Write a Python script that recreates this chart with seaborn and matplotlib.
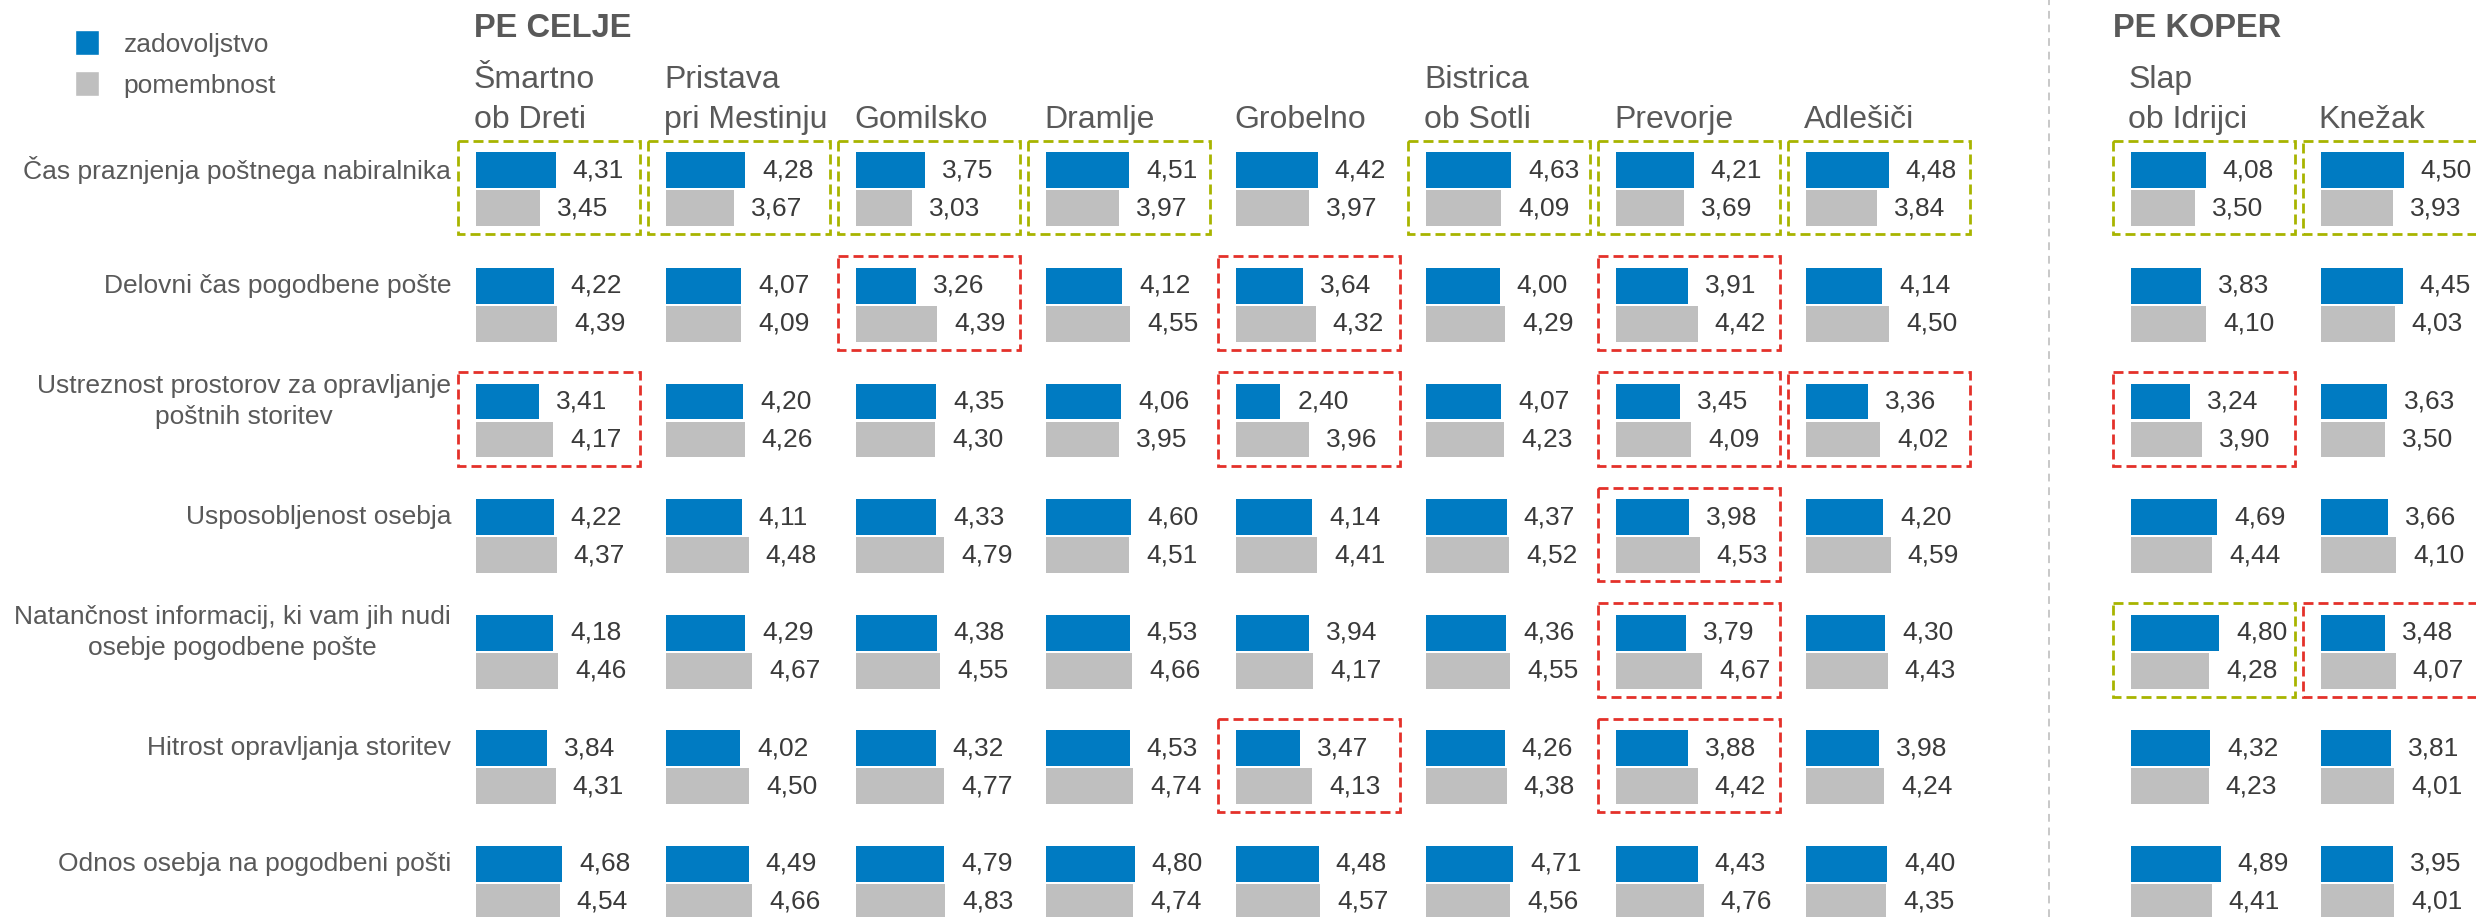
import matplotlib
matplotlib.use("Agg")
import matplotlib.pyplot as plt
import pandas as pd
import seaborn as sns
from matplotlib.patches import Rectangle, Patch
from matplotlib.lines import Line2D

# ---------------- data ----------------
criteria = [
    "Čas praznjenja poštnega nabiralnika",
    "Delovni čas pogodbene pošte",
    "Ustreznost prostorov za opravljanje\npoštnih storitev",
    "Usposobljenost osebja",
    "Natančnost informacij, ki vam jih nudi\nosebje pogodbene pošte",
    "Hitrost opravljanja storitev",
    "Odnos osebja na pogodbeni pošti",
]
offices = ["Šmartno\nob Dreti", "Pristava\npri Mestinju", "Gomilsko", "Dramlje", "Grobelno",
           "Bistrica\nob Sotli", "Prevorje", "Adlešiči", "Slap\nob Idrijci", "Knežak"]
office_region = ["PE CELJE"] * 8 + ["PE KOPER"] * 2
measures = ["zadovoljstvo", "pomembnost"]

zad_cas = [4.31, 4.28, 3.75, 4.51, 4.42, 4.63, 4.21, 4.48, 4.08, 4.50]
pom_cas = [3.45, 3.67, 3.03, 3.97, 3.97, 4.09, 3.69, 3.84, 3.50, 3.93]
zad_delovni = [4.22, 4.07, 3.26, 4.12, 3.64, 4.00, 3.91, 4.14, 3.83, 4.45]
pom_delovni = [4.39, 4.09, 4.39, 4.55, 4.32, 4.29, 4.42, 4.50, 4.10, 4.03]
zad_prostori = [3.41, 4.20, 4.35, 4.06, 2.40, 4.07, 3.45, 3.36, 3.24, 3.63]
pom_prostori = [4.17, 4.26, 4.30, 3.95, 3.96, 4.23, 4.09, 4.02, 3.90, 3.50]
zad_usposob = [4.22, 4.11, 4.33, 4.60, 4.14, 4.37, 3.98, 4.20, 4.69, 3.66]
pom_usposob = [4.37, 4.48, 4.79, 4.51, 4.41, 4.52, 4.53, 4.59, 4.44, 4.10]
zad_natancnost = [4.18, 4.29, 4.38, 4.53, 3.94, 4.36, 3.79, 4.30, 4.80, 3.48]
pom_natancnost = [4.46, 4.67, 4.55, 4.66, 4.17, 4.55, 4.67, 4.43, 4.28, 4.07]
zad_hitrost = [3.84, 4.02, 4.32, 4.53, 3.47, 4.26, 3.88, 3.98, 4.32, 3.81]
pom_hitrost = [4.31, 4.50, 4.77, 4.74, 4.13, 4.38, 4.42, 4.24, 4.23, 4.01]
zad_odnos = [4.68, 4.49, 4.79, 4.80, 4.48, 4.71, 4.43, 4.40, 4.89, 3.95]
pom_odnos = [4.54, 4.66, 4.83, 4.74, 4.57, 4.56, 4.76, 4.35, 4.41, 4.01]

zad_rows = [zad_cas, zad_delovni, zad_prostori, zad_usposob, zad_natancnost, zad_hitrost, zad_odnos]
pom_rows = [pom_cas, pom_delovni, pom_prostori, pom_usposob, pom_natancnost, pom_hitrost, pom_odnos]

# highlighted cells (criterion index, office index)
green_cells = [(0, 0), (0, 1), (0, 2), (0, 3), (0, 5), (0, 6), (0, 7), (0, 8), (0, 9), (4, 8)]
red_cells = [(1, 2), (1, 4), (1, 6),
             (2, 0), (2, 4), (2, 6), (2, 7), (2, 8),
             (3, 6),
             (4, 6), (4, 9),
             (5, 4), (5, 6)]

records = []
for ci, crit in enumerate(criteria):
    for oi, off in enumerate(offices):
        records.append({"criterion": crit, "office": off, "measure": "zadovoljstvo", "value": zad_rows[ci][oi]})
        records.append({"criterion": crit, "office": off, "measure": "pomembnost", "value": pom_rows[ci][oi]})
df = pd.DataFrame(records)

# ---------------- style ----------------
BLUE = "#007BC2"
GRAY = "#BFBFBF"
GREEN = "#A8B400"
RED = "#E4312A"
VAL_COLOR = "#3A3A3A"
TXT_COLOR = "#595959"

sns.set_theme(style="white")
plt.rcParams["font.family"] = ["Liberation Sans", "DejaVu Sans"]

W, H = 2476, 917
fig = plt.figure(figsize=(W / 100, H / 100), dpi=100)


def fx(x):
    return x / W


def fy(y):
    return 1 - y / H


PX_PER_UNIT = 18.45
ROW0 = 189.3
ROW_STEP = 115.6
CELL_W = 182
col_x = [476 + 190 * k for k in range(8)] + [2130.5, 2320.5]

ax_top = ROW0 - 0.5 * ROW_STEP
ax_h = len(criteria) * ROW_STEP
axes = []
for oi, off in enumerate(offices):
    ax = fig.add_axes([fx(col_x[oi]), fy(ax_top + ax_h), CELL_W / W, ax_h / H])
    sub = df[df["office"] == off]
    sns.barplot(data=sub, y="criterion", x="value", hue="measure", order=criteria,
                hue_order=measures, palette=[BLUE, GRAY], saturation=1, orient="h", width=0.655,
                gap=0.055, errorbar=None, legend=False, linewidth=0, ax=ax)
    for cont, meas in zip(ax.containers, measures):
        vals = [sub[(sub["criterion"] == c) & (sub["measure"] == meas)]["value"].iloc[0] for c in criteria]
        labels = [f"{v:.2f}".replace(".", ",") for v in vals]
        ax.bar_label(cont, labels=labels, padding=17 * 0.72, fontsize=19, color=VAL_COLOR)
    ax.set_xlim(0, CELL_W / PX_PER_UNIT)
    ax.set_ylim(len(criteria) - 0.5, -0.5)
    ax.axis("off")
    axes.append(ax)

# dashed highlight boxes
for cells, color in ((green_cells, GREEN), (red_cells, RED)):
    for ci, oi in cells:
        axes[oi].add_patch(Rectangle((-18 / PX_PER_UNIT, ci - 48.5 / ROW_STEP), CELL_W / PX_PER_UNIT,
                                     93.5 / ROW_STEP, fill=False, ec=color, lw=2.0,
                                     ls=(0, (3.6, 1.8)), clip_on=False, zorder=5))

# row labels
for ci, crit in enumerate(criteria):
    axes[0].text(-25 / PX_PER_UNIT, ci - 0.164, crit, ha="right", va="center", multialignment="center",
                 fontsize=19, color=TXT_COLOR, linespacing=1.35, clip_on=False)

# column headers
for oi, off in enumerate(offices):
    fig.text(fx(col_x[oi] - 2), fy(135), off, ha="left", va="bottom", fontsize=23,
             color=TXT_COLOR, linespacing=1.45)

# region titles
fig.text(fx(473.6), fy(37.3), "PE CELJE", ha="left", va="baseline", fontsize=23.5,
         fontweight="bold", color=TXT_COLOR)
fig.text(fx(2113), fy(37.3), "PE KOPER", ha="left", va="baseline", fontsize=23.5,
         fontweight="bold", color=TXT_COLOR)

# divider
fig.add_artist(Line2D([fx(2049), fx(2049)], [0, 1], color="#C8C8C8", lw=1.4, ls=(0, (4, 3))))

# legend
handles = [Patch(facecolor=BLUE, label=measures[0]), Patch(facecolor=GRAY, label=measures[1])]
fig.legend(handles=handles, loc="upper left", bbox_to_anchor=(fx(75), fy(30)), frameon=False,
           fontsize=19, labelcolor=TXT_COLOR, handlelength=0.92, handleheight=1.1,
           handletextpad=0.92, labelspacing=0.55, borderpad=0, borderaxespad=0)

fig.savefig("out.png", dpi=100)
